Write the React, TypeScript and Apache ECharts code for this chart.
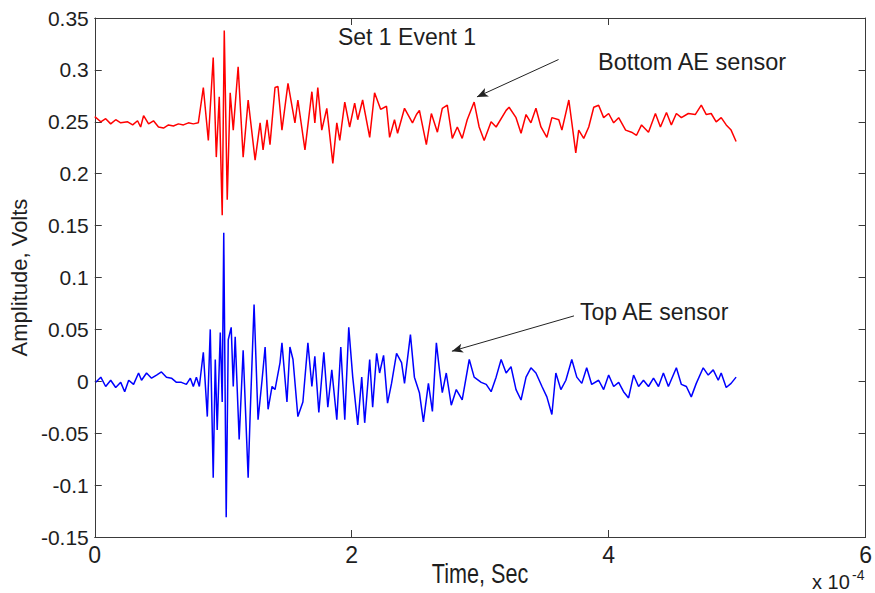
import React, { useEffect, useRef } from "react";
import * as echarts from "echarts";

// Time in units of 1e-4 s, amplitude in volts.
const bottomSensor: [number, number][] = [
  [0, 0.255], [0.047, 0.25], [0.085, 0.253], [0.124, 0.248], [0.163, 0.252], [0.202, 0.249],
  [0.256, 0.25], [0.295, 0.247], [0.333, 0.251], [0.357, 0.245], [0.38, 0.256], [0.419, 0.248],
  [0.457, 0.251], [0.496, 0.245], [0.535, 0.244], [0.574, 0.247], [0.612, 0.246], [0.651, 0.248],
  [0.69, 0.247], [0.729, 0.249], [0.767, 0.248], [0.806, 0.249], [0.845, 0.283], [0.884, 0.232],
  [0.922, 0.312], [0.946, 0.216], [0.969, 0.274], [0.992, 0.16], [1.008, 0.338], [1.031, 0.175],
  [1.054, 0.278], [1.078, 0.242], [1.116, 0.303], [1.155, 0.216], [1.194, 0.271], [1.248, 0.213],
  [1.287, 0.249], [1.31, 0.223], [1.341, 0.252], [1.364, 0.228], [1.403, 0.283], [1.426, 0.284],
  [1.457, 0.242], [1.504, 0.287], [1.558, 0.249], [1.581, 0.271], [1.636, 0.223], [1.69, 0.279],
  [1.713, 0.249], [1.736, 0.283], [1.767, 0.242], [1.806, 0.263], [1.853, 0.21], [1.884, 0.249],
  [1.907, 0.232], [1.946, 0.269], [1.984, 0.245], [2.023, 0.268], [2.047, 0.252], [2.085, 0.271],
  [2.14, 0.235], [2.178, 0.278], [2.225, 0.262], [2.271, 0.265], [2.295, 0.235], [2.333, 0.252],
  [2.357, 0.239], [2.411, 0.263], [2.473, 0.249], [2.504, 0.257], [2.527, 0.261], [2.581, 0.228],
  [2.62, 0.258], [2.667, 0.24], [2.705, 0.263], [2.744, 0.266], [2.783, 0.234], [2.822, 0.245],
  [2.86, 0.234], [2.899, 0.252], [2.953, 0.269], [2.992, 0.245], [3.031, 0.232], [3.085, 0.25],
  [3.124, 0.245], [3.202, 0.261], [3.225, 0.264], [3.279, 0.254], [3.318, 0.239], [3.357, 0.257],
  [3.395, 0.249], [3.434, 0.263], [3.473, 0.245], [3.519, 0.235], [3.558, 0.254], [3.612, 0.252],
  [3.636, 0.242], [3.69, 0.271], [3.721, 0.242], [3.744, 0.22], [3.767, 0.242], [3.806, 0.234],
  [3.845, 0.245], [3.884, 0.264], [3.922, 0.266], [3.961, 0.254], [4.0, 0.258], [4.039, 0.249],
  [4.078, 0.254], [4.132, 0.242], [4.178, 0.24], [4.217, 0.237], [4.256, 0.247], [4.31, 0.24],
  [4.364, 0.258], [4.403, 0.245], [4.45, 0.259], [4.488, 0.247], [4.527, 0.258], [4.566, 0.254],
  [4.62, 0.258], [4.674, 0.257], [4.721, 0.266], [4.76, 0.257], [4.798, 0.258], [4.837, 0.25],
  [4.876, 0.254], [4.915, 0.247], [4.953, 0.242], [4.992, 0.231],
];

const topSensor: [number, number][] = [
  [0.008, -0.001], [0.047, 0.004], [0.085, -0.005], [0.124, 0.001], [0.163, -0.006], [0.202, -0.001],
  [0.233, -0.01], [0.264, 0.001], [0.302, -0.003], [0.341, 0.008], [0.364, 0.001], [0.403, 0.008],
  [0.442, 0.003], [0.481, 0.006], [0.519, 0.009], [0.558, 0.004], [0.597, 0.003], [0.636, -0.001],
  [0.674, -0.001], [0.713, -0.003], [0.744, 0.003], [0.767, -0.005], [0.791, 0.004], [0.814, -0.005],
  [0.845, 0.028], [0.876, -0.034], [0.899, 0.05], [0.922, -0.093], [0.938, 0.021], [0.953, -0.047],
  [0.977, 0.047], [0.992, -0.02], [1.004, 0.143], [1.023, -0.131], [1.039, 0.04], [1.062, 0.052],
  [1.078, -0.005], [1.093, 0.043], [1.124, -0.056], [1.155, 0.03], [1.194, -0.093], [1.209, -0.034],
  [1.24, 0.074], [1.271, -0.037], [1.302, 0.001], [1.326, 0.033], [1.349, -0.027], [1.38, -0.005],
  [1.403, -0.008], [1.442, 0.018], [1.457, 0.037], [1.496, -0.02], [1.519, 0.033], [1.543, 0.021],
  [1.581, -0.034], [1.62, -0.02], [1.659, 0.037], [1.69, -0.005], [1.713, 0.024], [1.744, -0.03],
  [1.783, 0.028], [1.814, -0.025], [1.845, 0.011], [1.884, -0.037], [1.915, 0.033], [1.946, -0.037],
  [1.977, 0.052], [2.008, 0.004], [2.047, -0.042], [2.078, 0.004], [2.101, -0.04], [2.14, 0.021],
  [2.163, -0.025], [2.194, 0.027], [2.217, 0.008], [2.248, 0.025], [2.279, -0.021], [2.31, -0.002],
  [2.349, 0.027], [2.388, 0.018], [2.411, -0.002], [2.457, 0.045], [2.488, 0.004], [2.527, -0.011],
  [2.558, -0.039], [2.597, -0.002], [2.628, -0.029], [2.659, 0.037], [2.682, 0.012], [2.705, -0.011],
  [2.736, 0.008], [2.775, -0.023], [2.814, -0.008], [2.86, -0.018], [2.915, 0.021], [2.953, 0.004],
  [3.008, -0.001], [3.047, -0.003], [3.085, -0.01], [3.124, 0.004], [3.163, 0.021], [3.202, 0.008],
  [3.24, 0.014], [3.279, -0.008], [3.318, -0.018], [3.357, 0.004], [3.395, 0.013], [3.434, 0.008],
  [3.481, -0.005], [3.519, -0.015], [3.558, -0.032], [3.589, 0.008], [3.628, -0.008], [3.667, 0.001],
  [3.713, 0.021], [3.752, 0.004], [3.791, -0.002], [3.829, 0.013], [3.868, -0.003], [3.922, 0.001],
  [3.961, -0.008], [4.0, 0.006], [4.039, -0.005], [4.078, -0.001], [4.116, -0.01], [4.155, -0.016],
  [4.194, 0.006], [4.233, -0.005], [4.271, 0.001], [4.31, -0.005], [4.349, 0.003], [4.388, -0.005],
  [4.426, 0.008], [4.465, -0.005], [4.527, 0.013], [4.566, -0.003], [4.605, -0.005], [4.643, -0.015],
  [4.682, -0.002], [4.736, 0.013], [4.775, 0.006], [4.814, 0.011], [4.853, 0.001], [4.876, 0.008],
  [4.915, -0.006], [4.953, -0.002], [4.992, 0.004],
];

// Annotation arrows: [tail, head] in data coordinates.
const bottomArrow: [number, number][] = [[3.61, 0.31], [2.975, 0.274]];
const topArrow: [number, number][] = [[3.73, 0.063], [2.78, 0.029]];

const X_MIN = 0;
const X_MAX = 6;
const X_STEP = 2;
const Y_MIN = -0.15;
const Y_MAX = 0.35;
const Y_STEP = 0.05;

const FONT = "'Liberation Sans', Arial, Helvetica, sans-serif";
const AXIS_COLOR = "#3a3a3a";
const TEXT_COLOR = "#1e1e1e";

function arrowLine(pts: [number, number][]) {
  return {
    silent: true,
    symbol: ["none", "arrow"],
    symbolSize: [7, 11],
    label: { show: false },
    lineStyle: { color: "#222", width: 1, type: "solid" },
    emphasis: { disabled: true },
    animation: false,
    data: [[{ coord: pts[0] }, { coord: pts[1] }]],
  };
}

export default function App() {
  const ref = useRef<HTMLDivElement>(null);

  useEffect(() => {
    if (!ref.current) return;
    const chart = echarts.init(ref.current, undefined, { renderer: "svg" });

    const baseX = {
      type: "value",
      min: X_MIN,
      max: X_MAX,
      interval: X_STEP,
      splitLine: { show: false },
      axisLine: { show: true, onZero: false, lineStyle: { color: AXIS_COLOR, width: 1 } },
      axisTick: { show: true, inside: true, length: 7, lineStyle: { color: AXIS_COLOR } },
    };
    const baseY = {
      type: "value",
      min: Y_MIN,
      max: Y_MAX,
      interval: Y_STEP,
      splitLine: { show: false },
      axisLine: { show: true, onZero: false, lineStyle: { color: AXIS_COLOR, width: 1 } },
      axisTick: { show: true, inside: true, length: 7, lineStyle: { color: AXIS_COLOR } },
    };

    chart.setOption({
      animation: false,
      backgroundColor: "#ffffff",
      grid: { left: 94, right: 7, top: 18, bottom: 56, containLabel: false },
      xAxis: [
        {
          ...baseX,
          position: "bottom",
          axisLabel: { show: true, margin: 6, color: TEXT_COLOR, fontFamily: FONT, fontSize: 23 },
        },
        {
          ...baseX,
          position: "top",
          axisLabel: { show: false },
        },
      ],
      yAxis: [
        {
          ...baseY,
          position: "left",
          axisLabel: { show: true, margin: 6, color: TEXT_COLOR, fontFamily: FONT, fontSize: 21 },
          name: "Amplitude, Volts",
          nameLocation: "middle",
          nameGap: 56,
          nameRotate: 90,
          nameTextStyle: { color: TEXT_COLOR, fontFamily: FONT, fontSize: 22 },
        },
        {
          ...baseY,
          position: "right",
          axisLabel: { show: false },
        },
      ],
      graphic: [
        {
          type: "text",
          x: 407,
          y: 37,
          silent: true,
          style: { text: "Set 1 Event 1", font: `23px ${FONT}`, fill: TEXT_COLOR, align: "center", verticalAlign: "middle" },
        },
        {
          type: "text",
          x: 598,
          y: 62,
          silent: true,
          style: { text: "Bottom AE sensor", font: `23.5px ${FONT}`, fill: TEXT_COLOR, align: "left", verticalAlign: "middle" },
        },
        {
          type: "text",
          x: 580,
          y: 312,
          silent: true,
          style: { text: "Top AE sensor", font: `23px ${FONT}`, fill: TEXT_COLOR, align: "left", verticalAlign: "middle" },
        },
        {
          // x-axis title, set in a condensed face
          type: "text",
          x: 480,
          y: 560,
          scaleX: 0.8,
          silent: true,
          style: { text: "Time, Sec", font: `27px ${FONT}`, fill: TEXT_COLOR, align: "center", verticalAlign: "top" },
        },
        {
          type: "text",
          x: 812,
          y: 572,
          silent: true,
          style: { text: "x 10", font: `20px ${FONT}`, fill: TEXT_COLOR, align: "left", verticalAlign: "top" },
        },
        {
          type: "text",
          x: 852,
          y: 568,
          silent: true,
          style: { text: "-4", font: `14px ${FONT}`, fill: TEXT_COLOR, align: "left", verticalAlign: "top" },
        },
      ],
      series: [
        {
          name: "Bottom AE sensor",
          type: "line",
          data: bottomSensor,
          xAxisIndex: 0,
          yAxisIndex: 0,
          showSymbol: false,
          symbol: "none",
          smooth: false,
          lineStyle: { color: "#ff0000", width: 1.5 },
          markLine: arrowLine(bottomArrow),
        },
        {
          name: "Top AE sensor",
          type: "line",
          data: topSensor,
          xAxisIndex: 0,
          yAxisIndex: 0,
          showSymbol: false,
          symbol: "none",
          smooth: false,
          lineStyle: { color: "#0000ff", width: 1.5 },
          markLine: arrowLine(topArrow),
        },
      ],
    });

    return () => chart.dispose();
  }, []);

  return (
    <div
      ref={ref}
      style={{ position: "fixed", left: 0, top: 0, width: 875, height: 593, background: "#fff" }}
    />
  );
}
